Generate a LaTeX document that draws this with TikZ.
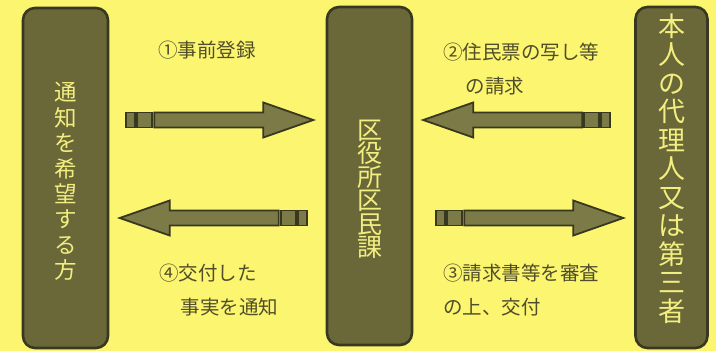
\documentclass[tikz,border=0pt]{standalone}
\usepackage{fontspec}
\setmainfont{Noto Sans CJK JP}
\usetikzlibrary{positioning}
\definecolor{paper}{RGB}{252,245,112}
\definecolor{olive}{RGB}{106,104,56}
\definecolor{olivedark}{RGB}{56,56,32}
\definecolor{arrowfill}{RGB}{124,122,70}
\definecolor{boxtext}{RGB}{242,238,128}
\definecolor{labeltext}{RGB}{80,78,42}
\tikzset{
  party/.style={draw=olivedark, fill=olive, line width=2.6pt, rounded corners=12pt},
  partytext/.style={text=boxtext, align=center, inner sep=0pt},
  steplabel/.style={text=labeltext, font=\fontsize{19.5}{34}\selectfont, align=left,
    anchor=base west, inner sep=0pt},
  arrowpart/.style={draw=olivedark, fill=arrowfill, line width=1.8pt},
  tailarrow/.pic={
    \draw[arrowpart] (28,-7.5) -- (137,-7.5) -- (137,-17.5) -- (187,0)
      -- (137,17.5) -- (137,7.5) -- (28,7.5) -- cycle;
    \draw[arrowpart] (11,-7.5) rectangle (26,7.5);
    \draw[arrowpart] (0,-7.5) rectangle (9,7.5);
  }
}
\begin{document}
\begin{tikzpicture}[x=1pt, y=-1pt]
\fill[paper] (0,0) rectangle (716,351);
\useasboundingbox (0,0) rectangle (716,351);
\node[party, minimum width=85pt, minimum height=340pt] (applicant) at (65.5,178) {};
\node[party, minimum width=85pt, minimum height=338pt] (office) at (369.5,176) {};
\node[party, minimum width=72pt, minimum height=341pt] (agent) at (671.5,177.5) {};
\node[partytext, font=\fontsize{22.5}{25.4}\selectfont, yshift=-3.5pt] (applicant-text)
  at (applicant) {通\\知\\を\\希\\望\\す\\る\\方};
\node[partytext, font=\fontsize{25}{23.5}\selectfont, yshift=-13pt] (office-text)
  at (office) {区\\役\\所\\区\\民\\課};
\node[partytext, font=\fontsize{27}{28.5}\selectfont, yshift=9pt] (agent-text)
  at (agent) {本\\人\\の\\代\\理\\人\\又\\は\\第\\三\\者};
\coordinate[xshift=17pt] (reg) at (applicant.east |- 0,120);
\coordinate[xshift=-24pt] (req) at (agent.west |- 0,120);
\coordinate[xshift=23pt] (issue) at (office.east |- 0,218);
\coordinate[xshift=-19pt] (notice) at (office.west |- 0,218);
\pic at (reg) {tailarrow};
\pic[xscale=-1] at (req) {tailarrow};
\pic at (issue) {tailarrow};
\pic[xscale=-1] at (notice) {tailarrow};
\node[steplabel] (lreg) at (158,57) {①事前登録};
\node[steplabel] (lreq) at (443,93) {②住民票の写し等\\\hspace*{1.15em}の請求};
\node[steplabel] (lnotice) at (159,314) {④交付した\\\hspace*{1.1em}事実を通知};
\node[steplabel] (lissue) at (443,314) {③請求書等を審査\\の上、交付};
\end{tikzpicture}
\end{document}
